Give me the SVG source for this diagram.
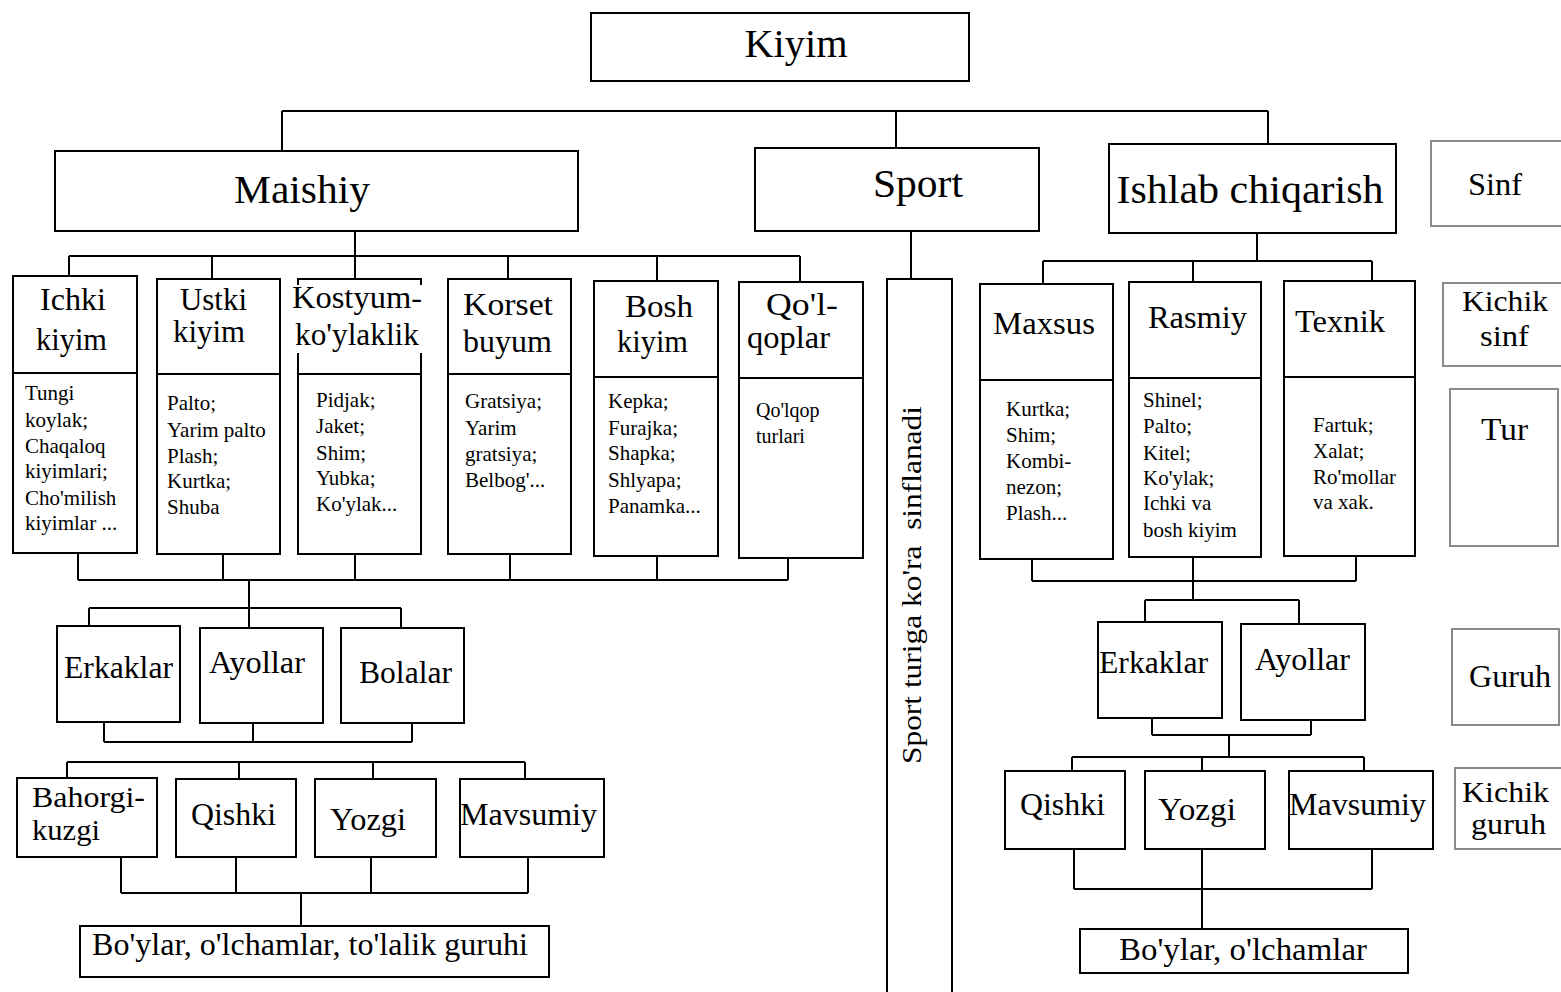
<svg xmlns="http://www.w3.org/2000/svg" width="1561" height="992" viewBox="0 0 1561 992" font-family="'Liberation Serif','DejaVu Serif',serif">
<style>
.b{fill:#fff;stroke:#000;stroke-width:2}
.o{fill:none;stroke:#000;stroke-width:2}
.g{fill:#fff;stroke:#8a8a8a;stroke-width:2}
.c{fill:none;stroke:#000;stroke-width:2}
text{font-family:'Liberation Serif','DejaVu Serif',serif;fill:#000}
.t1{font-size:41px}
.t2{font-size:31px}
.t4{font-size:29px}
.t3{font-size:21px}
</style>
<rect width="1561" height="992" fill="#fff"/>
<g id="connectors">
<path class="c" d="M282,111 H1268 M282,111 V151 M896,111 V148 M1268,111 V144"/>
<path class="c" d="M355,231 V256 M69,256 H800 M69,256 V276 M212,256 V279 M355,256 V279 M508,256 V279 M657,256 V281 M800,256 V282"/>
<path class="c" d="M78,553 V580 M223,554 V580 M355,554 V580 M510,554 V580 M657,556 V580 M788,558 V580 M78,580 H788"/>
<path class="c" d="M249,580 V608 M89,608 H401 M89,608 V626 M249,608 V628 M401,608 V628"/>
<path class="c" d="M104,722 V742 M253,723 V742 M412,723 V742 M104,742 H412"/>
<path class="c" d="M67,762 H525 M67,762 V778 M239,762 V779 M373,762 V779 M525,762 V779"/>
<path class="c" d="M121,857 V893 M236,857 V893 M371,857 V893 M528,857 V893 M121,893 H528 M301,893 V926"/>
<path class="c" d="M911,231 V279"/>
<path class="c" d="M1257,233 V261 M1043,261 H1372 M1043,261 V284 M1193,261 V282 M1372,261 V281"/>
<path class="c" d="M1032,559 V581 M1193,557 V581 M1356,556 V581 M1032,581 H1356 M1193,581 V600 M1145,600 H1299 M1145,600 V622 M1299,600 V624"/>
<path class="c" d="M1152,718 V735 M1311,720 V735 M1152,735 H1311 M1229,735 V757 M1072,757 H1364 M1072,757 V771 M1202,757 V771 M1364,757 V771"/>
<path class="c" d="M1074,849 V889 M1202,849 V889 M1372,849 V889 M1074,889 H1372 M1202,889 V929"/>
</g>
<g id="kiyim"><rect class="b" x="591" y="13" width="378" height="68"/><text class="t1" x="796" y="57" text-anchor="middle" textLength="103" lengthAdjust="spacingAndGlyphs">Kiyim</text></g>
<g id="maishiy"><rect class="b" x="55" y="151" width="523" height="80"/><text class="t1" x="302" y="203" text-anchor="middle" textLength="136" lengthAdjust="spacingAndGlyphs">Maishiy</text></g>
<g id="sport"><rect class="b" x="755" y="148" width="284" height="83"/><text class="t1" x="918" y="197" text-anchor="middle" textLength="90" lengthAdjust="spacingAndGlyphs">Sport</text></g>
<g id="ishlab"><rect class="b" x="1109" y="144" width="287" height="89"/><text class="t1" x="1250" y="203" text-anchor="middle" textLength="267" lengthAdjust="spacingAndGlyphs">Ishlab chiqarish</text></g>
<g id="sinf"><rect class="g" x="1431" y="141" width="132" height="85"/><text class="t2" x="1468" y="195" textLength="54" lengthAdjust="spacingAndGlyphs">Sinf</text></g>
<g id="ichki">
<rect class="b" x="13" y="276" width="124" height="277"/><line class="o" x1="13" y1="373" x2="137" y2="373"/>
<text class="t2" x="40" y="310" textLength="66" lengthAdjust="spacingAndGlyphs">Ichki</text>
<text class="t2" x="36" y="350" textLength="71" lengthAdjust="spacingAndGlyphs">kiyim</text>
<text class="t3"><tspan x="25" y="400">Tungi</tspan><tspan x="25" y="427">koylak;</tspan><tspan x="25" y="453">Chaqaloq</tspan><tspan x="25" y="478">kiyimlari;</tspan><tspan x="25" y="505">Cho'milish</tspan><tspan x="25" y="530">kiyimlar ...</tspan></text>
</g>
<g id="ustki">
<rect class="b" x="157" y="279" width="123" height="275"/><line class="o" x1="157" y1="374" x2="280" y2="374"/>
<text class="t2" x="180" y="310" textLength="67" lengthAdjust="spacingAndGlyphs">Ustki</text>
<text class="t2" x="173" y="342" textLength="72" lengthAdjust="spacingAndGlyphs">kiyim</text>
<text class="t3"><tspan x="167" y="410">Palto;</tspan><tspan x="167" y="437">Yarim palto</tspan><tspan x="167" y="463">Plash;</tspan><tspan x="167" y="488">Kurtka;</tspan><tspan x="167" y="514">Shuba</tspan></text>
</g>
<g id="kostyum">
<path class="o" d="M298,285 V279 H421 V285 M298,353 V554 H421 V353 M298,374 H421"/>
<text class="t2" x="292" y="308" textLength="130" lengthAdjust="spacingAndGlyphs">Kostyum-</text>
<text class="t2" x="295" y="345" textLength="124" lengthAdjust="spacingAndGlyphs">ko'ylaklik</text>
<text class="t3"><tspan x="316" y="407">Pidjak;</tspan><tspan x="316" y="433">Jaket;</tspan><tspan x="316" y="460">Shim;</tspan><tspan x="316" y="485">Yubka;</tspan><tspan x="316" y="511">Ko'ylak...</tspan></text>
</g>
<g id="korset">
<rect class="b" x="448" y="279" width="123" height="275"/><line class="o" x1="448" y1="374" x2="571" y2="374"/>
<text class="t2" x="463" y="315" textLength="90" lengthAdjust="spacingAndGlyphs">Korset</text>
<text class="t2" x="463" y="352" textLength="89" lengthAdjust="spacingAndGlyphs">buyum</text>
<text class="t3"><tspan x="465" y="408">Gratsiya;</tspan><tspan x="465" y="435">Yarim</tspan><tspan x="465" y="461">gratsiya;</tspan><tspan x="465" y="487">Belbog'...</tspan></text>
</g>
<g id="bosh">
<rect class="b" x="594" y="281" width="124" height="275"/><line class="o" x1="594" y1="377" x2="718" y2="377"/>
<text class="t2" x="625" y="317" textLength="68" lengthAdjust="spacingAndGlyphs">Bosh</text>
<text class="t2" x="617" y="352" textLength="71" lengthAdjust="spacingAndGlyphs">kiyim</text>
<text class="t3"><tspan x="608" y="408">Kepka;</tspan><tspan x="608" y="435">Furajka;</tspan><tspan x="608" y="460">Shapka;</tspan><tspan x="608" y="487">Shlyapa;</tspan><tspan x="608" y="513">Panamka...</tspan></text>
</g>
<g id="qolqoplar">
<rect class="b" x="739" y="282" width="124" height="276"/><line class="o" x1="739" y1="378" x2="863" y2="378"/>
<text class="t2" x="766" y="315" textLength="72" lengthAdjust="spacingAndGlyphs">Qo'l-</text>
<text class="t2" x="747" y="348" textLength="83" lengthAdjust="spacingAndGlyphs">qoplar</text>
<text class="t3" style="font-size:20px"><tspan x="756" y="417">Qo'lqop</tspan><tspan x="756" y="443">turlari</tspan></text>
</g>
<g id="erkaklar-l"><rect class="b" x="57" y="626" width="123" height="96"/><text class="t2" x="64" y="678" textLength="109" lengthAdjust="spacingAndGlyphs">Erkaklar</text></g>
<g id="ayollar-l"><rect class="b" x="200" y="628" width="123" height="95"/><text class="t2" x="209" y="673" textLength="96" lengthAdjust="spacingAndGlyphs">Ayollar</text></g>
<g id="bolalar"><rect class="b" x="341" y="628" width="123" height="95"/><text class="t2" x="359" y="683" textLength="93" lengthAdjust="spacingAndGlyphs">Bolalar</text></g>
<g id="bahorgi"><rect class="b" x="17" y="778" width="140" height="79"/><text class="t4" x="32" y="807" textLength="113" lengthAdjust="spacingAndGlyphs">Bahorgi-</text><text class="t4" x="32" y="840" textLength="68" lengthAdjust="spacingAndGlyphs">kuzgi</text></g>
<g id="qishki-l"><rect class="b" x="176" y="779" width="120" height="78"/><text class="t2" x="191" y="825" textLength="85" lengthAdjust="spacingAndGlyphs">Qishki</text></g>
<g id="yozgi-l"><rect class="b" x="315" y="779" width="121" height="78"/><text class="t2" x="330" y="830" textLength="76" lengthAdjust="spacingAndGlyphs">Yozgi</text></g>
<g id="mavsumiy-l"><rect class="b" x="460" y="779" width="144" height="78"/><text class="t2" x="460" y="825" textLength="137" lengthAdjust="spacingAndGlyphs">Mavsumiy</text></g>
<g id="boylar-l"><rect class="b" x="80" y="926" width="469" height="51"/><text class="t2" x="92" y="955" textLength="436" lengthAdjust="spacingAndGlyphs">Bo'ylar, o'lchamlar, to'lalik guruhi</text></g>
<g id="sport-turi">
<path class="o" d="M887,993 V279 H952 V993"/>
<text x="921" y="585" transform="rotate(-90 921 585)" text-anchor="middle" xml:space="preserve" style="font-size:27px" textLength="358" lengthAdjust="spacingAndGlyphs">Sport turiga ko'ra  sinflanadi</text>
</g>
<g id="maxsus">
<rect class="b" x="980" y="284" width="133" height="275"/><line class="o" x1="980" y1="380" x2="1113" y2="380"/>
<text class="t2" x="993" y="334" textLength="102" lengthAdjust="spacingAndGlyphs">Maxsus</text>
<text class="t3"><tspan x="1006" y="416">Kurtka;</tspan><tspan x="1006" y="442">Shim;</tspan><tspan x="1006" y="468">Kombi-</tspan><tspan x="1006" y="494">nezon;</tspan><tspan x="1006" y="520">Plash...</tspan></text>
</g>
<g id="rasmiy">
<rect class="b" x="1129" y="282" width="132" height="275"/><line class="o" x1="1129" y1="378" x2="1261" y2="378"/>
<text class="t2" x="1148" y="328" textLength="99" lengthAdjust="spacingAndGlyphs">Rasmiy</text>
<text class="t3"><tspan x="1143" y="407">Shinel;</tspan><tspan x="1143" y="433">Palto;</tspan><tspan x="1143" y="460">Kitel;</tspan><tspan x="1143" y="485">Ko'ylak;</tspan><tspan x="1143" y="510">Ichki va</tspan><tspan x="1143" y="537">bosh kiyim</tspan></text>
</g>
<g id="texnik">
<rect class="b" x="1284" y="281" width="131" height="275"/><line class="o" x1="1284" y1="377" x2="1415" y2="377"/>
<text class="t2" x="1295" y="332" textLength="90" lengthAdjust="spacingAndGlyphs">Texnik</text>
<text class="t3"><tspan x="1313" y="432">Fartuk;</tspan><tspan x="1313" y="458">Xalat;</tspan><tspan x="1313" y="484">Ro'mollar</tspan><tspan x="1313" y="509">va xak.</tspan></text>
</g>
<g id="kichik-sinf"><rect class="g" x="1443" y="283" width="120" height="83"/><text class="t4" x="1462" y="311" textLength="86" lengthAdjust="spacingAndGlyphs">Kichik</text><text class="t4" x="1480" y="346" textLength="49" lengthAdjust="spacingAndGlyphs">sinf</text></g>
<g id="tur"><rect class="g" x="1450" y="389" width="108" height="157"/><text class="t2" x="1481" y="440" textLength="47" lengthAdjust="spacingAndGlyphs">Tur</text></g>
<g id="erkaklar-r"><rect class="b" x="1098" y="622" width="124" height="96"/><text class="t2" x="1099" y="673" textLength="109" lengthAdjust="spacingAndGlyphs">Erkaklar</text></g>
<g id="ayollar-r"><rect class="b" x="1241" y="624" width="124" height="96"/><text class="t2" x="1255" y="670" textLength="95" lengthAdjust="spacingAndGlyphs">Ayollar</text></g>
<g id="guruh"><rect class="g" x="1452" y="629" width="107" height="96"/><text class="t2" x="1469" y="687" textLength="82" lengthAdjust="spacingAndGlyphs">Guruh</text></g>
<g id="qishki-r"><rect class="b" x="1005" y="771" width="120" height="78"/><text class="t2" x="1020" y="815" textLength="85" lengthAdjust="spacingAndGlyphs">Qishki</text></g>
<g id="yozgi-r"><rect class="b" x="1145" y="771" width="120" height="78"/><text class="t2" x="1158" y="820" textLength="78" lengthAdjust="spacingAndGlyphs">Yozgi</text></g>
<g id="mavsumiy-r"><rect class="b" x="1289" y="771" width="144" height="78"/><text class="t2" x="1289" y="815" textLength="137" lengthAdjust="spacingAndGlyphs">Mavsumiy</text></g>
<g id="kichik-guruh"><rect class="g" x="1455" y="768" width="107" height="81"/><text class="t4" x="1462" y="802" textLength="87" lengthAdjust="spacingAndGlyphs">Kichik</text><text class="t4" x="1471" y="834" textLength="75" lengthAdjust="spacingAndGlyphs">guruh</text></g>
<g id="boylar-r"><rect class="b" x="1080" y="929" width="328" height="44"/><text class="t2" x="1119" y="960" textLength="248" lengthAdjust="spacingAndGlyphs">Bo'ylar, o'lchamlar</text></g>
</svg>
